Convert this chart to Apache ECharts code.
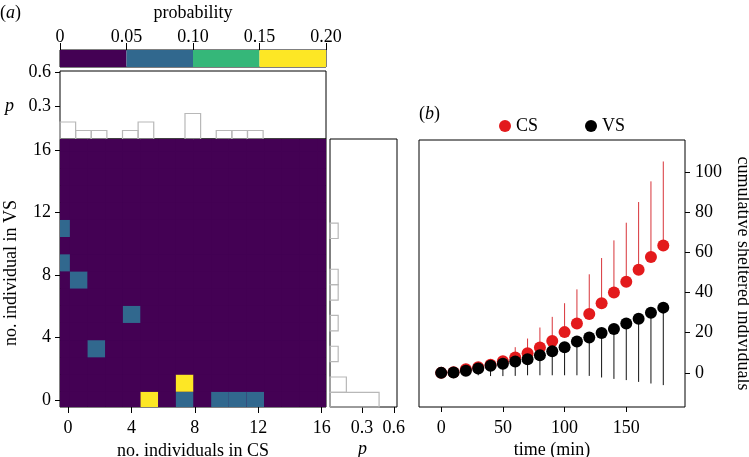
<!DOCTYPE html>
<html><head><meta charset="utf-8">
<script src="https://cdn.jsdelivr.net/npm/echarts@6/dist/echarts.min.js"></script>
<style>html,body{margin:0;padding:0;background:#fff}#c{width:749px;height:457px}</style>
</head><body><div id="c"></div>
<script>
// ---------- data ----------
const cbTicks = [0, 0.05, 0.10, 0.15, 0.20];
const cbColors = ['#440154', '#31688e', '#35b779', '#fde725'];

// joint distribution cells (heatmap): x bin, y bin, probability
const heatXStart = -0.987, heatXWidth = 1.113;
const heatYStart = -0.57, heatYWidth = 1.10;
const heatNX = 16, heatNY = 16;
const heatCells = [
  [0, 10, 1/13], [0, 8, 1/13], [1, 7, 1/13], [4, 5, 1/13], [2, 3, 1/13],
  [7, 1, 2/13], [5, 0, 2/13], [7, 0, 1/13], [9, 0, 1/13], [10, 0, 1/13], [11, 0, 1/13]
];

// marginal histograms
const histStart = -0.5, histWidth = 0.985;
const csHist = [2,1,1,0,1,2,0,0,3,0,1,1,1,0,0,0,0].map(v => v/13);
const vsHist = [6,2,0,1,0,1,0,1,1,0,0,1,0,0,0,0,0].map(v => v/13);

const heatTicks = [0, 4, 8, 12, 16];
const histTicks = [0.3, 0.6];

// panel b
const time = [0,10,20,30,40,50,60,70,80,90,100,110,120,130,140,150,160,170,180];
const csMean = [0,0.3,1.8,2.8,4,5.8,7.7,9.8,12.6,15.9,20.3,24.6,29.3,34.7,40,45.4,51.4,57.7,63.4];
const csUpper = [0,0.5,2.5,4,5.5,8.3,12.8,17.1,22.6,27.9,34.7,41.6,49.1,57.2,66,74.8,85.1,95.4,105.3];
const vsMean = [0,0.2,1,2.2,3.5,4.5,5.7,6.8,8.8,10.8,12.8,15.6,17.6,19.9,21.9,24.6,27,29.9,32.5];
const vsLower = [0,0,0,-1.2,-1.6,-1.6,-1.5,-1.2,-1.2,-1.2,-1.2,-1.2,-1.5,-2.3,-3,-3.6,-4.5,-5.3,-6.1];
const timeTicks = [0, 50, 100, 150];
const countTicks = [0, 20, 40, 60, 80, 100];

// ---------- helpers ----------
const FONT = '"Liberation Serif", "DejaVu Serif", serif';
const FS = 18;
function colorFor(p) {
  for (let i = 0; i < cbColors.length; i++) if (p < cbTicks[i+1]) return cbColors[i];
  return cbColors[cbColors.length-1];
}
function rectRender(styleFn) {
  return function (params, api) {
    const a = api.coord([api.value(0), api.value(2)]);
    const b = api.coord([api.value(1), api.value(3)]);
    const cs = params.coordSys;
    const shape = echarts.graphic.clipRectByRect(
      {x: Math.min(a[0], b[0]), y: Math.min(a[1], b[1]), width: Math.abs(b[0]-a[0]), height: Math.abs(b[1]-a[1])},
      {x: cs.x, y: cs.y, width: cs.width, height: cs.height});
    if (!shape) return null;
    return {type: 'rect', shape: shape, style: styleFn(api)};
  };
}
const fmtCb = v => (v === 0 ? '0' : v.toFixed(2));

const cbData = cbColors.map((c, i) => [cbTicks[i], cbTicks[i+1], 0, 1, i]);
const heatData = [];
for (let i = 0; i < heatNX; i++) for (let j = 0; j < heatNY; j++) {
  const cell = heatCells.find(c => c[0] === i && c[1] === j);
  const p = cell ? cell[2] : 0;
  heatData.push([heatXStart + i*heatXWidth, heatXStart + (i+1)*heatXWidth,
                 heatYStart + j*heatYWidth, heatYStart + (j+1)*heatYWidth, p]);
}
const topHistData = csHist.map((p, k) => [histStart + k*histWidth, histStart + (k+1)*histWidth, 0, p]).filter(d => d[3] > 0);
const rightHistData = vsHist.map((p, k) => [0, p, histStart + k*histWidth, histStart + (k+1)*histWidth]).filter(d => d[1] > 0);

const axText = {color: '#000', fontFamily: FONT, fontSize: FS};
const tickStyle = {lineStyle: {color: '#000', width: 1}, length: 5};
const noLine = {show: false, onZero: false};
const gridBase = {show: true, borderColor: '#000', borderWidth: 1, containLabel: false, outerBoundsMode: 'none'};

const chart = echarts.init(document.getElementById('c'), null, {renderer: 'canvas'});
chart.setOption({
  animation: false,
  textStyle: {fontFamily: FONT},
  grid: [
    Object.assign({left: 60, top: 50, width: 266, height: 17}, gridBase),
    Object.assign({left: 60, top: 71, width: 266, height: 68}, gridBase),
    Object.assign({left: 60, top: 139, width: 266, height: 268, backgroundColor: cbColors[0]}, gridBase),
    Object.assign({left: 330, top: 139, width: 67, height: 268}, gridBase),
    Object.assign({left: 419, top: 140, width: 266, height: 267}, gridBase)
  ],
  xAxis: [
    {gridIndex: 0, type: 'value', min: 0, max: 0.2, position: 'top',
     axisLine: noLine, splitLine: {show: false},
     axisTick: Object.assign({customValues: cbTicks}, tickStyle, {length: 7}),
     axisLabel: Object.assign({customValues: cbTicks, formatter: fmtCb, margin: 4}, axText),
     name: 'probability', nameLocation: 'middle', nameGap: 28, nameMoveOverlap: false, nameTextStyle: axText},
    {gridIndex: 1, type: 'value', min: -0.5, max: 16.27, show: false, axisLine: noLine},
    {gridIndex: 2, type: 'value', min: -0.5, max: 16.27, splitLine: {show: false},
     axisLine: noLine,
     axisTick: Object.assign({customValues: heatTicks}, tickStyle, {length: 6}),
     axisLabel: Object.assign({customValues: heatTicks, margin: 12}, axText),
     name: 'no. individuals in CS', nameLocation: 'middle', nameGap: 35, nameMoveOverlap: false, nameTextStyle: axText},
    {gridIndex: 3, type: 'value', min: 0, max: 0.63, splitLine: {show: false},
     axisLine: noLine,
     axisTick: Object.assign({customValues: histTicks}, tickStyle, {length: 6}),
     axisLabel: Object.assign({customValues: histTicks, margin: 12, formatter: v => v.toFixed(1)}, axText)},
    {gridIndex: 4, type: 'value', min: -18, max: 197.6, splitLine: {show: false},
     axisLine: noLine,
     axisTick: Object.assign({customValues: timeTicks}, tickStyle),
     axisLabel: Object.assign({customValues: timeTicks, margin: 12}, axText),
     name: 'time (min)', nameLocation: 'middle', nameGap: 34, nameMoveOverlap: false, nameTextStyle: axText}
  ],
  yAxis: [
    {gridIndex: 0, type: 'value', min: 0, max: 1, show: false, axisLine: noLine},
    {gridIndex: 1, type: 'value', min: 0, max: 0.615, splitLine: {show: false},
     axisLine: noLine,
     axisTick: Object.assign({customValues: histTicks}, tickStyle),
     axisLabel: Object.assign({customValues: histTicks, margin: 9, formatter: v => v.toFixed(1)}, axText)},
    {gridIndex: 2, type: 'value', min: -0.448, max: 16.7, splitLine: {show: false},
     axisLine: noLine,
     axisTick: Object.assign({customValues: heatTicks}, tickStyle),
     axisLabel: Object.assign({customValues: heatTicks, margin: 9}, axText),
     name: 'no. individual in VS', nameLocation: 'middle', nameGap: 40, nameMoveOverlap: false, nameTextStyle: axText},
    {gridIndex: 3, type: 'value', min: -0.448, max: 16.7, show: false, axisLine: noLine},
    {gridIndex: 4, type: 'value', min: -17, max: 116, position: 'right', splitLine: {show: false},
     axisLine: noLine,
     axisTick: Object.assign({customValues: countTicks}, tickStyle),
     axisLabel: Object.assign({customValues: countTicks, margin: 10}, axText),
     name: 'cumulative sheltered individuals', nameLocation: 'middle', nameGap: 49, nameRotate: -90,
     nameMoveOverlap: false, nameTextStyle: axText}
  ],
  legend: {left: 499, top: 117, padding: 0, itemWidth: 12, itemHeight: 12, itemGap: 47,
    textStyle: {fontFamily: FONT, fontSize: FS, color: '#000'},
    data: [{name: 'CS', icon: 'circle'}, {name: 'VS', icon: 'circle'}]},
  graphic: [
    {type: 'text', left: 0, top: 4, style: {text: '({i|a})', font: '18px ' + FONT, fill: '#000',
      rich: {i: {fontStyle: 'italic', fontFamily: FONT, fontSize: 18}}}},
    {type: 'text', left: 419, top: 105, style: {text: '({i|b})', font: '18px ' + FONT, fill: '#000',
      rich: {i: {fontStyle: 'italic', fontFamily: FONT, fontSize: 18}}}},
    {type: 'text', left: 5, top: 97, style: {text: 'p', font: 'italic 18px ' + FONT, fill: '#000'}},
    {type: 'text', left: 358, top: 440, style: {text: 'p', font: 'italic 18px ' + FONT, fill: '#000'}}
  ],
  series: [
    {type: 'custom', xAxisIndex: 0, yAxisIndex: 0, data: cbData, encode: {x: [0,1], y: [2,3]},
     renderItem: rectRender(api => ({fill: cbColors[api.value(4)]}))},
    {type: 'custom', xAxisIndex: 1, yAxisIndex: 1, data: topHistData, encode: {x: [0,1], y: [2,3]},
     renderItem: rectRender(() => ({fill: 'none', stroke: '#b8b8b8', lineWidth: 1.2}))},
    {type: 'custom', xAxisIndex: 2, yAxisIndex: 2, data: heatData, encode: {x: [0,1], y: [2,3]},
     renderItem: rectRender(api => ({fill: colorFor(api.value(4))}))},
    {type: 'custom', xAxisIndex: 3, yAxisIndex: 3, data: rightHistData, encode: {x: [0,1], y: [2,3]},
     renderItem: rectRender(() => ({fill: 'none', stroke: '#b8b8b8', lineWidth: 1.2}))},
    {type: 'custom', name: 'csErr', xAxisIndex: 4, yAxisIndex: 4, z: 2,
     data: time.map((t, i) => [t, csMean[i], csUpper[i]]), encode: {x: 0, y: [1,2]},
     renderItem: function (params, api) {
       const a = api.coord([api.value(0), api.value(1)]), b = api.coord([api.value(0), api.value(2)]);
       return {type: 'line', shape: {x1: a[0], y1: a[1], x2: b[0], y2: b[1]}, style: {stroke: '#d8343a', lineWidth: 1}};
     }},
    {type: 'custom', name: 'vsErr', xAxisIndex: 4, yAxisIndex: 4, z: 2,
     data: time.map((t, i) => [t, vsLower[i], vsMean[i]]), encode: {x: 0, y: [1,2]},
     renderItem: function (params, api) {
       const a = api.coord([api.value(0), api.value(1)]), b = api.coord([api.value(0), api.value(2)]);
       return {type: 'line', shape: {x1: a[0], y1: a[1], x2: b[0], y2: b[1]}, style: {stroke: '#111', lineWidth: 1}};
     }},
    {type: 'scatter', name: 'CS', xAxisIndex: 4, yAxisIndex: 4, z: 3, symbol: 'circle', symbolSize: 12,
     itemStyle: {color: '#e31a1c', opacity: 1}, data: time.map((t, i) => [t, csMean[i]])},
    {type: 'scatter', name: 'VS', xAxisIndex: 4, yAxisIndex: 4, z: 4, symbol: 'circle', symbolSize: 12,
     itemStyle: {color: '#000', opacity: 1}, data: time.map((t, i) => [t, vsMean[i]])}
  ]
});
</script></body></html>
